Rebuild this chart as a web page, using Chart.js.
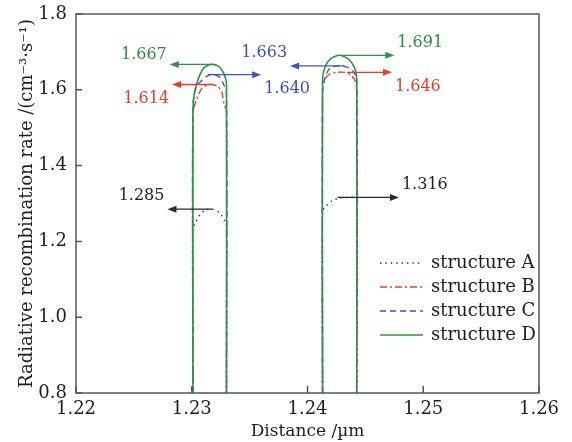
<!DOCTYPE html>
<html>
<head>
<meta charset="utf-8">
<script src="https://cdn.jsdelivr.net/npm/chart.js@4.4.1/dist/chart.umd.min.js"></script>
<style>
  html, body { margin: 0; padding: 0; background: #fff; }
  #wrap { width: 572px; height: 442px; }
</style>
</head>
<body>
<div id="wrap"><canvas id="chart" width="572" height="442"></canvas></div>
<script>
// Distance (um) vs radiative recombination rate.
// Each structure runs over both wells, a null value breaks the line between them.
const xA = [1.2301, 1.2301, 1.23035, 1.2307, 1.2312, 1.2318, 1.2324, 1.2329, 1.2330, 1.2330, 1.236,
            1.2413, 1.2413, 1.2416, 1.2421, 1.2428, 1.2436, 1.24425, 1.24425];
const yA = [0.8, 1.235, 1.251, 1.270, 1.283, 1.285, 1.275, 1.251, 1.240, 0.8, null,
            0.8, 1.280, 1.293, 1.307, 1.314, 1.316, 1.316, 0.8];

const xB = [1.2301, 1.2301, 1.2304, 1.2309, 1.2316, 1.2322, 1.2326, 1.2328, 1.2330, 1.2330, 1.236,
            1.2413, 1.2413, 1.2415, 1.2419, 1.2425, 1.2432, 1.2437, 1.2441, 1.24425, 1.24425];
const yB = [0.8, 1.540, 1.573, 1.605, 1.614, 1.610, 1.594, 1.560, 1.547, 0.8, null,
            0.8, 1.600, 1.628, 1.641, 1.646, 1.646, 1.640, 1.625, 1.600, 0.8];

const xC = [1.2301, 1.2301, 1.2304, 1.2309, 1.2316, 1.2323, 1.2327, 1.2330, 1.2330, 1.236,
            1.2413, 1.2413, 1.2415, 1.2418, 1.2422, 1.2428, 1.2434, 1.2439, 1.24425, 1.24425];
const yC = [0.8, 1.560, 1.607, 1.626, 1.640, 1.636, 1.618, 1.590, 0.8, null,
            0.8, 1.600, 1.630, 1.652, 1.661, 1.663, 1.660, 1.650, 1.630, 0.8];

const xD = [1.2301, 1.2301, 1.23015, 1.23032, 1.23063, 1.23097, 1.2314, 1.2318, 1.23227, 1.23261, 1.23287, 1.2330, 1.2330, 1.236,
            1.2413, 1.2413, 1.2415, 1.2420, 1.24274, 1.2435, 1.24405, 1.24425, 1.24425];
const yD = [0.8, 1.520, 1.573, 1.605, 1.634, 1.655, 1.665, 1.667, 1.663, 1.652, 1.636, 1.615, 0.8, null,
            0.8, 1.627, 1.659, 1.682, 1.691, 1.682, 1.659, 1.630, 0.8];

const seriesNames = ['structure A', 'structure B', 'structure C', 'structure D'];

// peak call-outs: value, arrow start and arrow tip (distance)
const peakValues = [1.667, 1.614, 1.640, 1.663, 1.691, 1.646, 1.285, 1.316];
const peakFrom   = [1.2317, 1.2318, 1.2314, 1.2432, 1.2428, 1.2434, 1.2318, 1.2426];
const peakTo     = [1.2281, 1.2283, 1.2360, 1.2385, 1.2475, 1.2473, 1.2279, 1.2479];
const peakSeries = [3, 1, 2, 2, 3, 1, 0, 0];
const labelDy    = [-10, 14, 14, -13, -12, 14, -13, -13];

const colors = ['#2a2a2a', '#ee3b2b', '#3d55c0', '#2e9445'];
const textColors = ['#1e1e1e', '#ec3a2a', '#3b4fb3', '#2b8a3e'];
const dashes = [[1.4, 4], [7, 3, 2, 3], [6, 4], []];
const serif = 'DejaVu Serif';

function pts(xs, ys) {
    return xs.map((x, i) => ({ x: x, y: ys[i] }));
}

const seriesData = [pts(xA, yA), pts(xB, yB), pts(xC, yC), pts(xD, yD)];

const datasets = seriesData.map((d, i) => ({
    label: seriesNames[i],
    data: d,
    borderColor: colors[i],
    borderWidth: i === 3 ? 1.6 : 1.4,
    borderDash: dashes[i],
    pointRadius: 0,
    tension: 0.25,
    spanGaps: false,
    order: 3 - i
}));

// frame, inward ticks, legend and the peak arrows
const decorations = {
    id: 'decorations',
    afterDatasetsDraw(chart) {
        const ctx = chart.ctx;
        const xs = chart.scales.x, ys = chart.scales.y;
        ctx.save();
        ctx.font = '16px "' + serif + '"';
        ctx.textBaseline = 'middle';
        peakValues.forEach((v, i) => {
            const y = ys.getPixelForValue(v);
            const x0 = xs.getPixelForValue(peakFrom[i]);
            const x1 = xs.getPixelForValue(peakTo[i]);
            const dir = x1 > x0 ? 1 : -1;
            const col = colors[peakSeries[i]];
            ctx.strokeStyle = col;
            ctx.fillStyle = col;
            ctx.lineWidth = 1.3;
            ctx.setLineDash([]);
            ctx.beginPath();
            ctx.moveTo(x0, y);
            ctx.lineTo(x1 - dir * 6, y);
            ctx.stroke();
            ctx.beginPath();
            ctx.moveTo(x1, y);
            ctx.lineTo(x1 - dir * 9, y - 3.5);
            ctx.lineTo(x1 - dir * 9, y + 3.5);
            ctx.closePath();
            ctx.fill();
            ctx.fillStyle = textColors[peakSeries[i]];
            ctx.textAlign = dir > 0 ? 'left' : 'right';
            ctx.fillText(v.toFixed(3), x1 + dir * 3, y + labelDy[i]);
        });
        ctx.restore();
    },
    afterDraw(chart) {
        const ctx = chart.ctx;
        const a = chart.chartArea;
        const xs = chart.scales.x, ys = chart.scales.y;
        ctx.save();
        ctx.strokeStyle = '#555';
        ctx.lineWidth = 1.5;
        ctx.setLineDash([]);
        ctx.strokeRect(a.left, a.top, a.right - a.left, a.bottom - a.top);
        ctx.beginPath();
        xs.ticks.forEach(t => {
            const px = xs.getPixelForValue(t.value);
            ctx.moveTo(px, a.bottom);
            ctx.lineTo(px, a.bottom - 7);
        });
        ys.ticks.forEach(t => {
            const py = ys.getPixelForValue(t.value);
            ctx.moveTo(a.left, py);
            ctx.lineTo(a.left + 6, py);
        });
        ctx.stroke();

        // legend, bottom right inside the plot
        ctx.font = '18px "' + serif + '"';
        ctx.textAlign = 'left';
        ctx.textBaseline = 'middle';
        seriesNames.forEach((name, i) => {
            const y = a.top + 249 + i * 24;
            const x = a.right - 159;
            ctx.strokeStyle = colors[i];
            ctx.lineWidth = 1.4;
            ctx.setLineDash(dashes[i]);
            ctx.beginPath();
            ctx.moveTo(x, y);
            ctx.lineTo(x + 43, y);
            ctx.stroke();
            ctx.fillStyle = '#1e1e1e';
            ctx.fillText(name, x + 51, y);
        });
        ctx.restore();
    }
};

new Chart(document.getElementById('chart').getContext('2d'), {
    type: 'line',
    data: { datasets: datasets },
    options: {
        responsive: false,
        animation: false,
        layout: { padding: { top: 14, right: 33, left: 0, bottom: 0 } },
        plugins: {
            legend: { display: false },
            tooltip: { enabled: false }
        },
        scales: {
            x: {
                type: 'linear',
                min: 1.22,
                max: 1.26,
                afterFit: s => { s.height = 49; s.paddingLeft = 0; s.paddingRight = 0; },
                grid: { display: false, drawTicks: false },
                border: { display: false },
                ticks: {
                    stepSize: 0.01,
                    padding: 6,
                    color: '#1e1e1e',
                    font: { family: serif, size: 18 },
                    maxRotation: 0,
                    callback: v => v.toFixed(2)
                },
                title: {
                    display: true,
                    text: 'Distance /\u00b5m',
                    color: '#1e1e1e',
                    font: { family: serif, size: 17 },
                    padding: { top: 0, bottom: 0 }
                }
            },
            y: {
                min: 0.8,
                max: 1.8,
                afterFit: s => { s.width = 76; s.paddingTop = 0; s.paddingBottom = 0; },
                grid: { display: false, drawTicks: false },
                border: { display: false },
                ticks: {
                    stepSize: 0.2,
                    padding: 9,
                    color: '#1e1e1e',
                    font: { family: serif, size: 18 },
                    callback: v => v.toFixed(1)
                },
                title: {
                    display: true,
                    text: 'Radiative recombination rate /(cm\u207b\u00b3\u00b7s\u207b\u00b9)',
                    color: '#1e1e1e',
                    font: { family: serif, size: 18 },
                    padding: { top: 17, bottom: 0 }
                }
            }
        }
    },
    plugins: [decorations]
});
</script>
</body>
</html>
